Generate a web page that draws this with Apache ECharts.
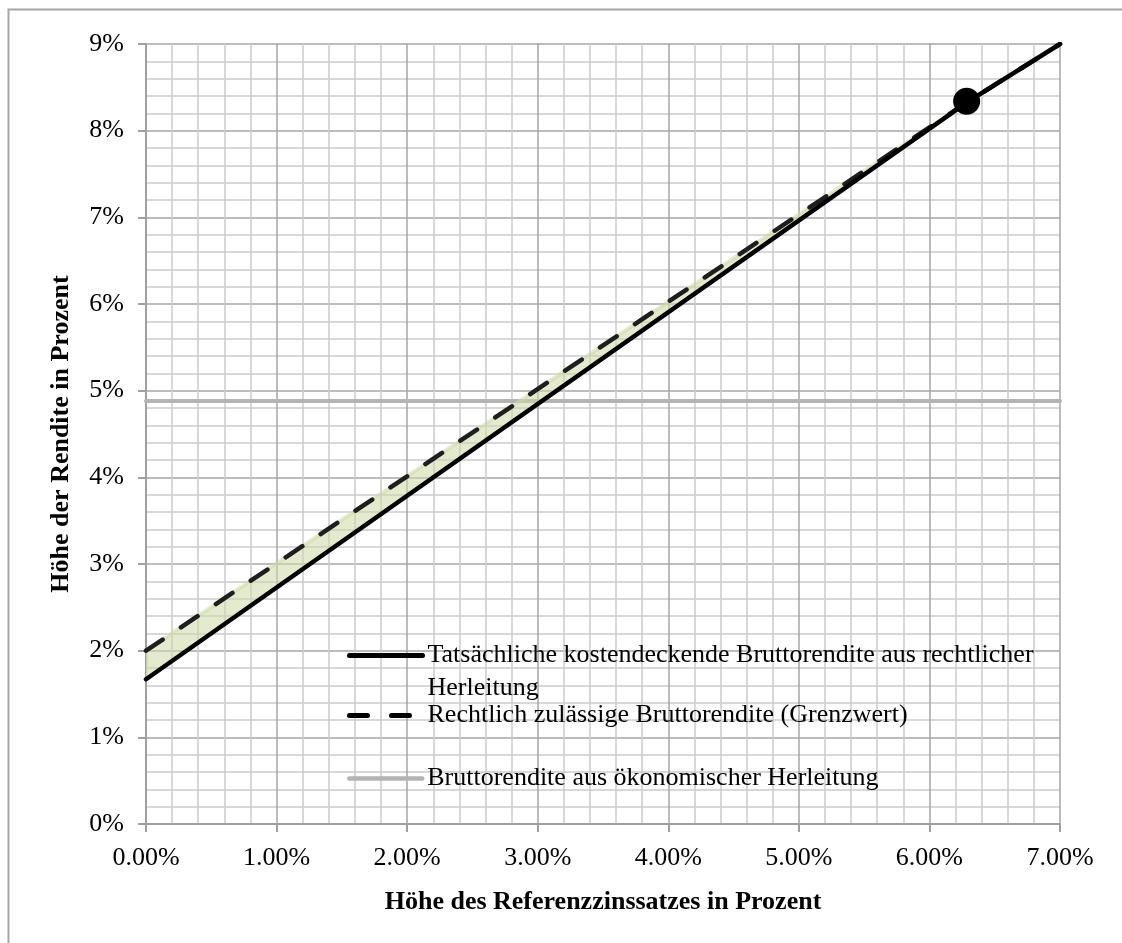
<!DOCTYPE html>
<html>
<head>
<meta charset="utf-8">
<script src="https://cdn.jsdelivr.net/npm/echarts@6/dist/echarts.min.js"></script>
<style>html,body{margin:0;padding:0;background:#fff;}#c{width:1122px;height:943px;}</style>
</head>
<body>
<div id="c"></div>
<script>
// ---- data ----
const xValues = [0, 6.29, 7];
const solidValues = [1.67, 8.33, 9.0];     // Tatsächliche kostendeckende Bruttorendite
const dashedValues = [2.0, 8.33, 9.0];     // Rechtlich zulässige Bruttorendite
const economicValue = 4.88;                // Bruttorendite aus ökonomischer Herleitung
const economicX = [0, 7];
const markerPoint = [6.285, 8.34];
const xTicks = [0, 1, 2, 3, 4, 5, 6, 7];
const yTicks = [0, 1, 2, 3, 4, 5, 6, 7, 8, 9];
const nameSolid = 'Tatsächliche kostendeckende Bruttorendite aus rechtlicher\nHerleitung';
const nameDashed = 'Rechtlich zulässige Bruttorendite (Grenzwert)';
const nameEco = 'Bruttorendite aus ökonomischer Herleitung';

const FONT = '"Liberation Serif", "Times New Roman", serif';
const solidData = xValues.map((x, i) => [x, solidValues[i]]);
const dashedData = xValues.map((x, i) => [x, dashedValues[i]]);
const ecoData = economicX.map(x => [x, economicValue]);

const chart = echarts.init(document.getElementById('c'), null, {renderer: 'canvas'});
const legendText = {fontFamily: FONT, fontSize: 26, color: '#000', lineHeight: 33};
const legendCommon = {left: 347, padding: 0, itemWidth: 73, itemHeight: 14, selectedMode: false,
  itemStyle: {opacity: 0}, textStyle: legendText};
chart.setOption({
  animation: false,
  backgroundColor: '#fff',
  graphic: [{
    type: 'rect', left: 6, top: 7, z: -10,
    shape: {width: 1200, height: 1000},
    style: {fill: 'none', stroke: '#a6a6a6', lineWidth: 2}
  }],
  grid: {left: 146, right: 62, top: 44, bottom: 119, containLabel: false},
  legend: [
    Object.assign({}, legendCommon, {data: [nameSolid], top: 606,
      formatter: n => '\n' + n,
      lineStyle: {color: '#000', width: 5, cap: 'round', type: 'solid'}}),
    Object.assign({}, legendCommon, {data: [nameDashed], top: 699,
      lineStyle: {color: '#000', width: 5, cap: 'round', type: [18, 24]}}),
    Object.assign({}, legendCommon, {data: [nameEco], top: 762,
      lineStyle: {color: '#b4b4b4', width: 4.5, cap: 'round', type: 'solid'}})
  ],
  xAxis: {
    type: 'value', min: 0, max: 7, interval: 1,
    name: 'Höhe des Referenzzinssatzes in Prozent', nameLocation: 'middle', nameGap: 65,
    nameTextStyle: {fontFamily: FONT, fontSize: 26, fontWeight: 'bold', color: '#000'},
    axisLine: {show: true, lineStyle: {color: '#a0a0a0', width: 2}},
    axisTick: {show: true, length: 8, lineStyle: {color: '#a0a0a0', width: 2}},
    axisLabel: {margin: 21, fontFamily: FONT, fontSize: 26, color: '#000',
      formatter: v => v.toFixed(2) + '%'},
    splitLine: {show: true, lineStyle: {color: '#a6a6a6', width: 1.5}},
    minorTick: {show: false, splitNumber: 5},
    minorSplitLine: {show: true, lineStyle: {color: '#cccccc', width: 1.5}}
  },
  yAxis: {
    type: 'value', min: 0, max: 9, interval: 1,
    name: 'Höhe der Rendite in Prozent', nameLocation: 'middle', nameGap: 72,
    nameTextStyle: {fontFamily: FONT, fontSize: 26, fontWeight: 'bold', color: '#000'},
    axisLine: {show: true, lineStyle: {color: '#a0a0a0', width: 2}},
    axisTick: {show: true, length: 8, lineStyle: {color: '#a0a0a0', width: 2}},
    axisLabel: {margin: 22, fontFamily: FONT, fontSize: 26, color: '#000',
      formatter: v => v + '%'},
    splitLine: {show: true, lineStyle: {color: '#a6a6a6', width: 1.5}},
    minorTick: {show: false, splitNumber: 5},
    minorSplitLine: {show: true, lineStyle: {color: '#cccccc', width: 1.5}}
  },
  series: [
    {name: nameEco, type: 'line', data: ecoData, symbol: 'none', z: 2,
     lineStyle: {color: '#b4b4b4', width: 4, cap: 'round'}, itemStyle: {color: '#b4b4b4'}},
    {name: 'band', type: 'custom', data: [0], z: 3, silent: true, clip: true,
     renderItem: function (params, api) {
       const upper = dashedData.map(p => api.coord(p));
       const lower = solidData.map(p => api.coord(p)).reverse();
       return {type: 'polygon', shape: {points: upper.concat(lower)},
         style: {fill: 'rgba(205,216,165,0.55)', stroke: 'rgba(205,216,165,0.55)', lineWidth: 4}};
     }},
    {name: nameDashed, type: 'line', data: dashedData, symbol: 'none', z: 4,
     lineStyle: {color: '#1e1e1e', width: 4.5, type: [20, 22], cap: 'round'}, itemStyle: {color: '#1e1e1e'}},
    {name: nameSolid, type: 'line', data: solidData, symbol: 'none', z: 5,
     lineStyle: {color: '#000', width: 4.5, cap: 'round'}, itemStyle: {color: '#000'}},
    {name: 'Punkt', type: 'scatter', data: [markerPoint], symbolSize: 27, z: 6,
     itemStyle: {color: '#000', opacity: 1}}
  ]
});
</script>
</body>
</html>
